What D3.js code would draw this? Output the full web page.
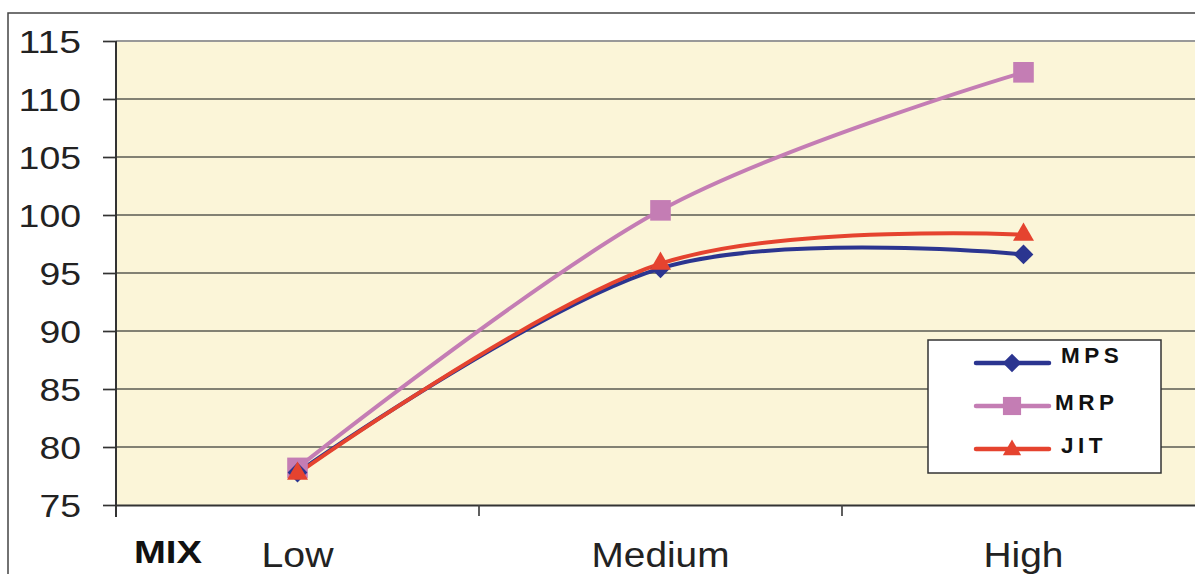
<!DOCTYPE html>
<html><head><meta charset="utf-8">
<script src="https://cdn.jsdelivr.net/npm/d3@7"></script>
<style>body{margin:0;background:#fff;overflow:hidden}svg{display:block;font-family:"Liberation Sans",Arial,sans-serif}</style>
</head><body>
<svg id="c" width="1195" height="574"></svg>
<script>
const categories = ["Low", "Medium", "High"];
const yTicks = [75, 80, 85, 90, 95, 100, 105, 110, 115];
const seriesNames = ["MPS", "MRP", "JIT"];
const mpsValues = [77.8, 95.4, 96.6];
const mrpValues = [78.2, 100.4, 112.3];
const jitValues = [77.7, 95.8, 98.3];
const seriesColors = ["#2B3590", "#C47DB4", "#E5432F"];
const seriesSymbols = [d3.symbolDiamond2, d3.symbolSquare2, d3.symbolTriangle2];

const svg = d3.select("#c");
const L = 116, T = 41, B = 505, R = 116 + 3 * 363;
const x = d3.scaleBand().domain(categories).range([L, R]);
const y = d3.scaleLinear().domain([75, 115]).range([B, T]);
const FONT = "Liberation Sans, Arial, sans-serif";

// outer frame
svg.append("path").attr("d", `M8,574 V13 H1195`).attr("fill","none").attr("stroke","#444").attr("stroke-width",1.5);

// plot background
svg.append("rect").attr("x", L).attr("y", T).attr("width", 1195 - L + 5).attr("height", B - T)
  .attr("fill", "#FBF5D8");
svg.append("line").attr("x1", L).attr("x2", 1200).attr("y1", T).attr("y2", T).attr("stroke", "#999").attr("stroke-width", 2);

// gridlines
svg.append("g").selectAll("line").data(yTicks.filter(v => v > 75 && v < 115)).join("line")
  .attr("x1", L).attr("x2", 1200).attr("y1", d => y(d)).attr("y2", d => y(d))
  .attr("stroke", "#5a5a52").attr("stroke-width", 1.7);

// y axis
const ya = svg.append("g").attr("transform", `translate(${L},0)`)
  .call(d3.axisLeft(y).tickValues(yTicks).tickSize(13).tickPadding(22));
ya.select(".domain").attr("stroke", "#333").attr("stroke-width", 2).attr("d", `M0,${T}V${B+12}`);
ya.selectAll(".tick line").attr("stroke", "#333").attr("stroke-width", 1.7);
ya.selectAll(".tick text").attr("font-size", 31).attr("fill", "#222").attr("font-family", FONT)
  .attr("dy", "0.36em")
  .attr("textLength", d => String(d).length * 20.8).attr("lengthAdjust", "spacingAndGlyphs");

// x axis
const xa = svg.append("g").attr("transform", `translate(0,${B})`)
  .call(d3.axisBottom(x).tickSize(0).tickPadding(0));
xa.select(".domain").attr("stroke", "#333").attr("stroke-width", 2);
const xLen = {Low: 72, Medium: 138, High: 80};
xa.selectAll(".tick text").attr("font-size", 35).attr("fill", "#222").attr("font-family", FONT)
  .attr("y", 62).attr("dy", 0)
  .attr("textLength", d => xLen[d]).attr("lengthAdjust", "spacingAndGlyphs");
// boundary ticks between categories
svg.append("g").selectAll("line").data(categories.slice(1)).join("line")
  .attr("x1", d => x(d)).attr("x2", d => x(d)).attr("y1", B).attr("y2", B + 11)
  .attr("stroke", "#444").attr("stroke-width", 1.7);

svg.append("text").attr("x", 168).attr("y", 563).attr("text-anchor", "middle")
  .attr("font-size", 31).attr("font-weight", "bold").attr("fill", "#111")
  .attr("textLength", 68).attr("lengthAdjust", "spacingAndGlyphs").text("MIX");

// series
const allValues = [mpsValues, mrpValues, jitValues];
const cx = i => x(categories[i]) + x.bandwidth() / 2;
const line = d3.line().x((d, i) => cx(i)).y(d => y(d)).curve(d3.curveCardinal.tension(0));
const order = [1, 0, 2];
order.forEach(s => {
  svg.append("path").datum(allValues[s]).attr("d", line).attr("fill", "none")
    .attr("stroke", seriesColors[s]).attr("stroke-width", 4).attr("stroke-linejoin", "round");
});
const sizes = [250, 540, 315];
order.forEach(s => {
  svg.append("g").selectAll("path").data(allValues[s]).join("path")
    .attr("transform", (d, i) => `translate(${cx(i)},${y(d)})`)
    .attr("d", d3.symbol().type(seriesSymbols[s]).size(sizes[s]))
    .attr("fill", seriesColors[s]);
});

// legend
const lg = svg.append("g");
lg.append("rect").attr("x", 928).attr("y", 340).attr("width", 233).attr("height", 133)
  .attr("fill", "#fff").attr("stroke", "#333").attr("stroke-width", 1.5);
const ly = [363, 406, 449];
const lx = [1061, 1055, 1061];
const lb = [363, 410, 453];
const lsizes = [220, 420, 240];
seriesNames.forEach((n, s) => {
  lg.append("line").attr("x1", 976).attr("x2", 1049).attr("y1", ly[s]).attr("y2", ly[s])
    .attr("stroke", seriesColors[s]).attr("stroke-width", 4.5).attr("stroke-linecap", "round");
  lg.append("path").attr("transform", `translate(1012,${ly[s] + (s === 2 ? 1 : 0)})`)
    .attr("d", d3.symbol().type(seriesSymbols[s]).size(lsizes[s])).attr("fill", seriesColors[s]);
  lg.append("text").attr("x", lx[s]).attr("y", lb[s]).attr("font-size", 22.5)
    .attr("font-weight", "bold").attr("letter-spacing", 4.5).attr("fill", "#111").text(n);
});
</script>
</body></html>
